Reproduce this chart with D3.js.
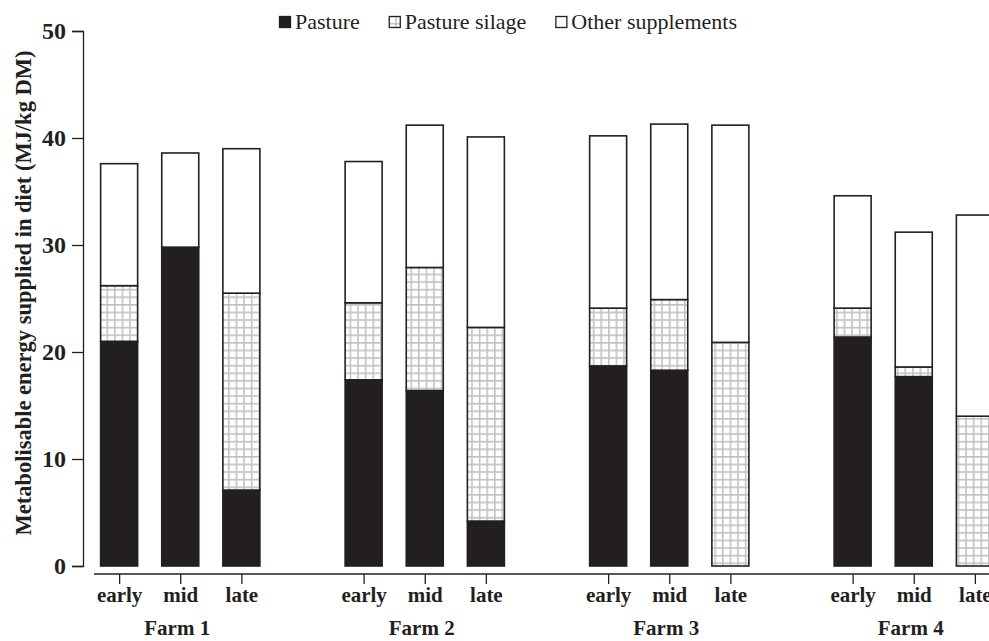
<!DOCTYPE html>
<html>
<head>
<meta charset="utf-8">
<script src="https://cdn.jsdelivr.net/npm/d3@7/dist/d3.min.js"></script>
<style>
  body { margin: 0; background: #fff; }
  svg { display: block; font-family: "Liberation Serif", "Times New Roman", serif; }
</style>
</head>
<body>
<div id="chart"></div>
<script>
// data
const farms = ["Farm 1", "Farm 2", "Farm 3", "Farm 4"];
const periods = ["early", "mid", "late"];
const pasture = [21.0, 29.8, 7.1, 17.4, 16.4, 4.2, 18.7, 18.3, 0, 21.4, 17.7, 0];
const silage = [5.2, 0, 18.4, 7.2, 11.5, 18.1, 5.4, 6.6, 20.9, 2.7, 0.9, 14.0];
const other = [11.4, 8.8, 13.5, 13.2, 13.3, 17.8, 16.1, 16.4, 20.3, 10.5, 12.6, 18.8];
const yTicks = [0, 10, 20, 30, 40, 50];
const seriesKeys = ["pasture", "silage", "other"];
const seriesLabels = ["Pasture", "Pasture silage", "Other supplements"];

const WIDTH = 989;
const HEIGHT = 641;
const INK = "#231f20";
const BAR_WIDTH = 37;

// build rows for the stack
const rows = [];
farms.forEach((farm, i) => {
    periods.forEach((period, j) => {
        const k = i * periods.length + j;
        rows.push({ farm, period, pasture: pasture[k], silage: silage[k], other: other[k] });
    });
});

const svg = d3.select("#chart")
    .append("svg")
    .attr("width", WIDTH)
    .attr("height", HEIGHT);

// grid pattern for the silage part
const defs = svg.append("defs");
const pat = defs.append("pattern")
    .attr("id", "grid")
    .attr("patternUnits", "userSpaceOnUse")
    .attr("width", 7.6)
    .attr("height", 7.6);
pat.append("rect").attr("width", 7.6).attr("height", 7.6).attr("fill", "#fff");
pat.append("path")
    .attr("d", "M0,0.8H7.6M0.8,0V7.6")
    .attr("stroke", "#c2c2c2")
    .attr("stroke-width", 1.6);

function fillFor(key) {
    if (key === "pasture") return INK;
    if (key === "silage") return "url(#grid)";
    return "#fff";
}

// scales
const x0 = d3.scaleBand()
    .domain(farms)
    .range([58, 1036]);

const x1 = d3.scalePoint()
    .domain(periods)
    .range([0, x0.bandwidth()])
    .padding(1);

const y = d3.scaleLinear()
    .domain([0, 50])
    .range([566, 31]);

// stacked bars
const stacked = d3.stack().keys(seriesKeys)(rows);

svg.append("g")
    .selectAll("g")
    .data(stacked)
    .join("g")
    .attr("fill", d => fillFor(d.key))
    .selectAll("rect")
    .data(d => d)
    .join("rect")
    .attr("x", d => x0(d.data.farm) + x1(d.data.period) - BAR_WIDTH / 2)
    .attr("width", BAR_WIDTH)
    .attr("y", d => y(d[1]))
    .attr("height", d => y(d[0]) - y(d[1]))
    .attr("stroke", INK)
    .attr("stroke-width", 1.6);

// y axis
const yAxis = svg.append("g")
    .attr("transform", "translate(83,0)")
    .call(d3.axisLeft(y).tickValues(yTicks).tickSize(11).tickPadding(6));
yAxis.select(".domain").attr("stroke", INK).attr("stroke-width", 1.3);
yAxis.selectAll(".tick line").attr("stroke", INK).attr("stroke-width", 1.3);
yAxis.selectAll(".tick text")
    .attr("fill", INK)
    .style("font-family", "\"Liberation Serif\", serif")
    .style("font-size", "24px")
    .style("font-weight", "bold");

// x axis base line
svg.append("line")
    .attr("x1", 94)
    .attr("x2", WIDTH)
    .attr("y1", 574)
    .attr("y2", 574)
    .attr("stroke", INK)
    .attr("stroke-width", 1.3);

// period ticks inside each farm
farms.forEach(farm => {
    const g = svg.append("g")
        .attr("transform", `translate(${x0(farm)},574)`)
        .call(d3.axisBottom(x1).tickSize(10).tickPadding(3));
    g.select(".domain").remove();
    g.selectAll(".tick line").attr("stroke", INK).attr("stroke-width", 1.3);
    g.selectAll(".tick text")
        .attr("fill", INK)
        .style("font-family", "\"Liberation Serif\", serif")
        .style("font-size", "21px")
        .style("font-weight", "bold");
});

// farm labels
svg.append("g")
    .selectAll("text")
    .data(farms)
    .join("text")
    .attr("x", d => x0(d) + x0.bandwidth() / 2 - 3)
    .attr("y", 635)
    .attr("text-anchor", "middle")
    .attr("fill", INK)
    .style("font-size", "21px")
    .style("font-weight", "bold")
    .text(d => d);

// y axis title
svg.append("text")
    .attr("transform", "translate(31,293) rotate(-90)")
    .attr("text-anchor", "middle")
    .attr("fill", INK)
    .style("font-size", "22.5px")
    .style("font-weight", "bold")
    .text("Metabolisable energy supplied in diet (MJ/kg DM)");

// legend
const legend = svg.append("g");
let lx = 279;
seriesKeys.forEach((key, i) => {
    legend.append("rect")
        .attr("x", lx + 0.5)
        .attr("y", 16.5)
        .attr("width", 11)
        .attr("height", 11)
        .attr("fill", fillFor(key))
        .attr("stroke", INK)
        .attr("stroke-width", 1.3);
    const t = legend.append("text")
        .attr("x", lx + 16)
        .attr("y", 29)
        .attr("fill", INK)
        .style("font-size", "22px")
        .text(seriesLabels[i]);
    lx += 16 + t.node().getComputedTextLength() + 29;
});
</script>
</body>
</html>
